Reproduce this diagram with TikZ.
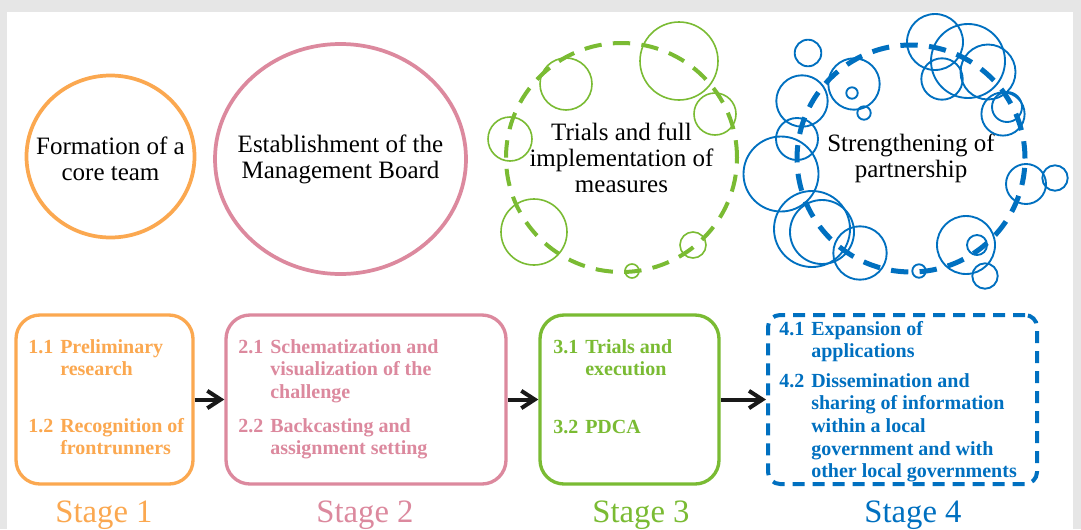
\documentclass[tikz,border=0pt]{standalone}
\usepackage{fontspec}
\setmainfont{Liberation Serif}
\usepackage{xcolor}
\definecolor{stgorange}{RGB}{251,168,80}
\definecolor{stgpink}{RGB}{220,137,158}
\definecolor{stggreen}{RGB}{122,187,51}
\definecolor{stgblue}{RGB}{0,112,192}
\definecolor{framegray}{RGB}{230,230,230}
\usetikzlibrary{arrows.meta,shapes.geometric}
% number in front, wrapped lines hang under the text
\newcommand{\numitem}[2]{\begin{tabular}[t]{@{}l@{\hspace{.35em}}l@{}}#1&\begin{tabular}[t]{@{}l@{}}#2\end{tabular}\end{tabular}}

\begin{document}
\begin{tikzpicture}[x=0.75pt, y=-0.75pt,
  ring/.style={ellipse, line width=2.8pt, inner sep=0pt},
  ringtxt/.style={align=center, inner sep=0pt, text=black, font=\fontsize{18.75}{19.5}\selectfont},
  bubble/.style={line width=1.2pt},
  stagebox/.style={draw, rounded corners=18pt, line width=2.5pt, inner sep=0pt, minimum height=126.75pt},
  itemtxt/.style={anchor=base west, inner sep=0pt, font=\fontsize{15}{17}\selectfont\bfseries},
  stagelab/.style={anchor=base, inner sep=0pt, font=\fontsize{24.5}{27}\selectfont},
  arr/.style={-{Straight Barb[length=10pt,width=13pt]}, line width=3pt, black!90}]
\useasboundingbox (0,0) rectangle (1081,529);
\fill[framegray] (0,0) rectangle (1081,529);
\fill[white] (7,12) rectangle (1073,529);

% upper row: the four rings
\node[ring, draw=stgorange, minimum width=126pt, minimum height=121.5pt] (core) at (110.5,156.5) {};
\node[ring, draw=stgpink, minimum width=188.25pt, minimum height=172.5pt] (board) at (340.5,159) {};
\node[ring, draw=stggreen, line width=3pt, dash pattern=on 13pt off 8.5pt, minimum width=173.25pt, minimum height=171.75pt] (trials) at (621.5,157.5) {};
\node[ring, draw=stgblue, line width=3.75pt, dash pattern=on 13pt off 8.5pt, minimum width=171pt, minimum height=170.25pt] (partner) at (911,158.5) {};

\node[ringtxt] (coretxt) at ([yshift=-2pt]core.center) {Formation of a\\core team};
\node[ringtxt] (boardtxt) at (board.center) {Establishment of the\\Management Board};
\node[ringtxt] (trialstxt) at (trials.center) {Trials and full\\implementation of\\measures};
\node[ringtxt] (partnertxt) at (partner.center) {Strengthening of\\partnership};

% bubbles round the dashed rings
\foreach \x/\y/\r in {679/61/39, 566/84/26, 715/114/21, 510/139/22, 534/232/33, 693/245/13, 632/271/7}
  \draw[bubble, stggreen] (\x,\y) circle[radius=\r];
\foreach \x/\y/\r in {808/53/13.3, 854/84/25.7, 852/93/5.7, 864/113/6.7, 802/101/25.7, 797/139/21,
    781/174/37.5, 812/229/38, 822/232/32, 860/253/26.7, 919/271/6.7, 935/42/28, 968/61/37,
    942/79/20.7, 988/72/27.5, 1003/114/21.6, 1007/107/15, 1026/184/20, 1055/178/12.7,
    966/245/29, 977/245/10, 985/276/12.7}
  \draw[bubble, stgblue, line width=1.4pt] (\x,\y) circle[radius=\r];

% lower row: stage boxes
\node[stagebox, stgorange, minimum width=132.75pt] (box1) at (104.5,399.5) {};
\node[stagebox, stgpink, minimum width=210pt] (box2) at (366,399.5) {};
\node[stagebox, stggreen, minimum width=134.25pt] (box3) at (629.5,399.5) {};
\node[stagebox, stgblue, rounded corners=9pt, line width=3pt, dash pattern=on 9pt off 6pt, minimum width=201.75pt] (box4) at (902.5,399.5) {};

\node[itemtxt, stgorange] (i11) at (28,353) {\numitem{1.1}{Preliminary\\research}};
\node[itemtxt, stgorange] (i12) at (28,432) {\numitem{1.2}{Recognition of\\frontrunners}};
\node[itemtxt, stgpink] (i21) at (238,353) {\numitem{2.1}{Schematization and\\visualization of the\\challenge}};
\node[itemtxt, stgpink] (i22) at (238,432) {\numitem{2.2}{Backcasting and\\assignment setting}};
\node[itemtxt, stggreen] (i31) at (553,353) {\numitem{3.1}{Trials and\\execution}};
\node[itemtxt, stggreen] (i32) at (553,433) {\numitem{3.2}{PDCA}};
\node[itemtxt, stgblue] (i41) at (779,335) {\numitem{4.1}{Expansion of\\applications}};
\node[itemtxt, stgblue] (i42) at (779,387) {\numitem{4.2}{Dissemination and\\sharing of information\\within a local\\government and with\\other local governments}};

\draw[arr] (box1) -- (box2);
\draw[arr] (box2) -- (box3);
\draw[arr] (box3) -- (box4);

\node[stagelab, stgorange] (lab1) at (104,522) {Stage 1};
\node[stagelab, stgpink] (lab2) at (365,522) {Stage 2};
\node[stagelab, stggreen] (lab3) at (641,522) {Stage 3};
\node[stagelab, stgblue] (lab4) at (913,522) {Stage 4};
\end{tikzpicture}
\end{document}
